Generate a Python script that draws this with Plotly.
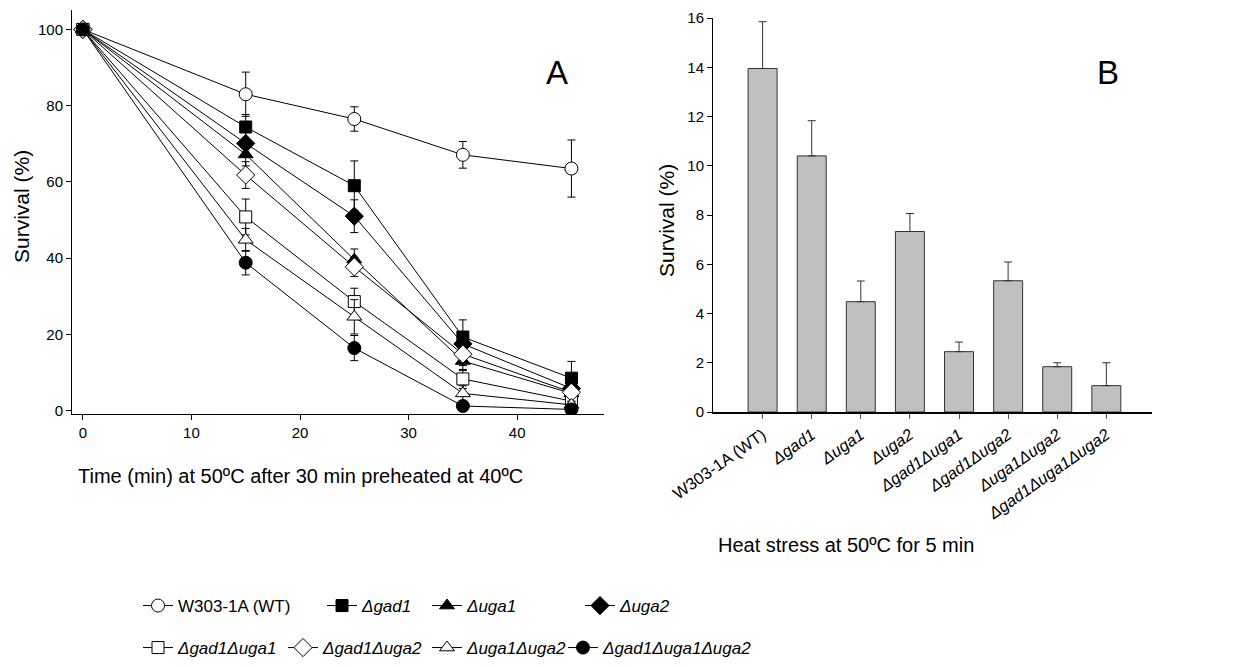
import plotly.graph_objects as go

# ---- Panel A: survival time course at 50 ºC (after 30 min preheat at 40 ºC) ----
time_min = [0, 15, 25, 35, 45]

strains = ["W303-1A (WT)", "Δgad1", "Δuga1", "Δuga2",
           "Δgad1Δuga1", "Δgad1Δuga2", "Δuga1Δuga2", "Δgad1Δuga1Δuga2"]

surv_wt = [100, 83.0, 76.5, 67.1, 63.5]
surv_gad1 = [100, 74.4, 59.0, 19.3, 8.5]
surv_uga1 = [100, 67.2, 39.6, 13.0, 4.5]
surv_uga2 = [100, 70.1, 51.0, 17.5, 5.8]
surv_gad1uga1 = [100, 50.8, 28.6, 8.3, 2.5]
surv_gad1uga2 = [100, 61.8, 37.7, 14.8, 4.8]
surv_uga1uga2 = [100, 44.8, 24.6, 4.5, 1.5]
surv_triple = [100, 38.8, 16.4, 1.2, 0.3]

err_wt = [0, 5.8, 3.2, 3.5, 7.5]
err_gad1 = [0, 3.3, 6.5, 4.5, 4.4]
err_uga1 = [0, 3.0, 2.8, 2.5, 2.0]
err_uga2 = [0, 3.0, 4.3, 3.0, 2.5]
err_gad1uga1 = [0, 4.7, 3.5, 2.5, 1.5]
err_gad1uga2 = [0, 3.5, 2.5, 3.0, 2.5]
err_uga1uga2 = [0, 3.0, 4.5, 2.0, 1.0]
err_triple = [0, 3.2, 3.3, 1.0, 0.5]

# ---- Panel B: survival after 5 min at 50 ºC ----
bar_survival = [13.95, 10.4, 4.48, 7.33, 2.45, 5.33, 1.84, 1.07]
bar_error = [1.9, 1.43, 0.84, 0.73, 0.39, 0.76, 0.16, 0.93]

FONT = "Arial, Liberation Sans, sans-serif"
W, H = 1233, 667


def label_html(name):
    # mutant names are set in italics
    return name if name.startswith("W303") else "<i>" + name + "</i>"


def px_x(v):
    return v / W


def px_y(v):
    return 1 - v / H


series = [
    (surv_wt, err_wt, "circle", "white"),
    (surv_gad1, err_gad1, "square", "black"),
    (surv_uga1, err_uga1, "triangle-up", "black"),
    (surv_uga2, err_uga2, "diamond", "black"),
    (surv_gad1uga1, err_gad1uga1, "square", "white"),
    (surv_gad1uga2, err_gad1uga2, "diamond", "white"),
    (surv_uga1uga2, err_uga1uga2, "triangle-up", "white"),
    (surv_triple, err_triple, "circle", "black"),
]
marker_size = {"circle": 13, "square": 12, "triangle-up": 13, "diamond": 14}

# legend slots: (left px, centre y px)
legend_pos = [(138, 606), (322, 606), (427, 606), (580, 606),
              (138, 648), (283, 648), (427, 648), (563, 648)]

fig = go.Figure()

for i, (name, (vals, errs, sym, fill)) in enumerate(zip(strains, series)):
    leg = "legend" if i == 0 else "legend%d" % (i + 1)
    fig.add_trace(go.Scatter(
        x=time_min, y=vals, name=label_html(name), legend=leg,
        mode="lines+markers",
        line=dict(color="black", width=1),
        marker=dict(symbol=sym, size=marker_size[sym], color=fill,
                    line=dict(color="black", width=1)),
        error_y=dict(type="data", array=errs, visible=True,
                     color="black", thickness=1, width=4),
        xaxis="x", yaxis="y",
    ))

fig.add_trace(go.Bar(
    x=list(range(len(strains))), y=bar_survival, width=0.59,
    marker=dict(color="#c0c0c0", line=dict(color="#333333", width=1)),
    error_y=dict(type="data", array=bar_error, symmetric=False,
                 arrayminus=[0] * len(bar_error), visible=True,
                 color="#333333", thickness=1, width=4),
    showlegend=False, xaxis="x2", yaxis="y2",
))

axis_common = dict(showline=True, linecolor="black", linewidth=1,
                   ticks="outside", ticklen=5, tickcolor="black",
                   showgrid=False, zeroline=False, automargin=False,
                   tickfont=dict(family=FONT, size=15, color="black"))


def text_note(text, x, y, size, angle=0):
    return dict(text=text, x=px_x(x), y=px_y(y), xref="paper", yref="paper",
                xanchor="center", yanchor="middle", textangle=angle,
                showarrow=False, font=dict(size=size, family=FONT, color="black"))


layout = dict(
    width=W, height=H, margin=dict(l=0, r=0, t=0, b=0),
    paper_bgcolor="white", plot_bgcolor="white",
    font=dict(family=FONT, color="black"),
    xaxis=dict(domain=[px_x(72), px_x(604)], range=[-1, 48],
               tickvals=[0, 10, 20, 30, 40], anchor="y", **axis_common),
    yaxis=dict(domain=[px_y(414), px_y(10)], range=[-0.9, 105.1],
               tickvals=[0, 20, 40, 60, 80, 100], anchor="x", **axis_common),
    xaxis2=dict(domain=[px_x(713), px_x(1152)], range=[-1.01, 7.93],
                tickvals=list(range(len(strains))),
                ticktext=[label_html(s) for s in strains],
                tickangle=-35, anchor="y2",
                **{**axis_common, "linewidth": 2, "tickcolor": "#555555",
                   "tickfont": dict(family=FONT, size=16.5, color="black")}),
    yaxis2=dict(domain=[px_y(412), px_y(18)], range=[0, 16],
                tickvals=list(range(0, 17, 2)), anchor="x2", **axis_common),
    annotations=[
        text_note("A", 557, 72, 33),
        text_note("B", 1108, 72, 33),
        text_note("Survival (%)", 22, 207, 21, -90),
        text_note("Survival (%)", 667, 221, 21, -90),
        text_note("Time (min) at 50ºC after 30 min preheated at 40ºC", 300, 476, 20),
        text_note("Heat stress at 50ºC for 5 min", 846, 545, 20),
    ],
)

for i, (px, py) in enumerate(legend_pos):
    key = "legend" if i == 0 else "legend%d" % (i + 1)
    layout[key] = dict(x=px_x(px), y=px_y(py), xanchor="left", yanchor="middle",
                       orientation="h", bgcolor="rgba(0,0,0,0)",
                       borderwidth=0, font=dict(size=17, family=FONT),
                       itemclick=False, itemdoubleclick=False)

fig.update_layout(**layout)
fig.write_html("out.html")
